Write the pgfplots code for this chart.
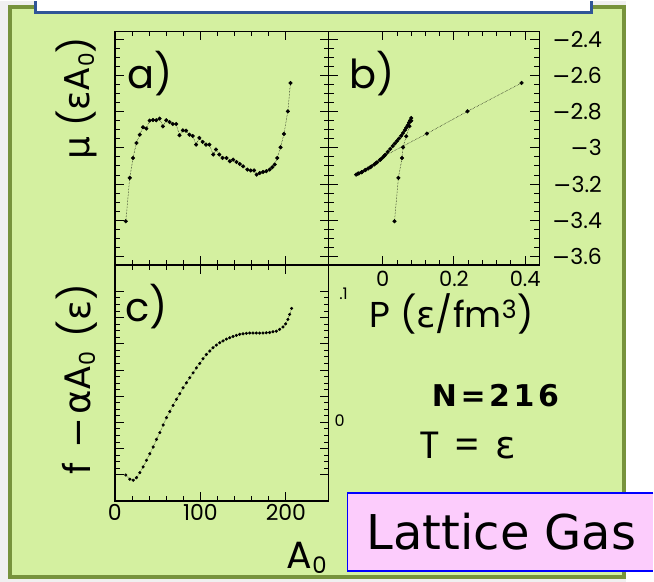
\documentclass[border=0pt]{standalone}
\usepackage{pgfplots}
\pgfplotsset{compat=1.18}
\usepackage{fontspec}
\setmainfont{Poppins}
\newfontfamily\dejavu{DejaVu Sans}
\newfontfamily\dejavubold{DejaVu Sans Bold}[LetterSpace=12]
\definecolor{panelgreen}{RGB}{212,240,160}
\definecolor{panelborder}{RGB}{119,147,60}
\definecolor{boxblue}{RGB}{47,85,151}
\definecolor{pinkbox}{RGB}{252,204,252}
\newcommand{\fs}[1]{\fontsize{#1}{#1}\selectfont}
\newcommand{\sub}[1]{\raisebox{-0.25ex}{\scalebox{0.6}{#1}}}
\pgfplotsset{
  panel/.style={
    scale only axis,
    axis line style={line width=1.6pt},
    every tick/.style={black, line width=0.9pt},
    major tick length=9pt,
    minor tick length=5pt,
    tick align=inside,
    xtick pos=both, ytick pos=both,
    clip=false,
  },
  dat/.style={black, densely dotted, line width=0.5pt, mark=*, mark options={solid, fill=black}, mark size=1.8pt},
}
\begin{document}
\begin{tikzpicture}
\begin{scope}[x=1pt,y=1pt]
\fill[black!6] (0,0) rectangle (654,581);
\fill[white] (627,0) rectangle (654,581);
\filldraw[fill=panelgreen, draw=panelborder, line width=4pt] (10,5) rectangle (625,575);
\fill[white] (36,570) rectangle (592,581);
\draw[boxblue, line width=3pt] (36,581) -- (36,570) -- (592,570) -- (592,581);
\end{scope}

% panel a
\begin{axis}[panel, at={(115pt,317pt)}, anchor=south west, width=214pt, height=234pt,
  xmin=0, xmax=250, ymin=-3.649, ymax=-2.356,
  xtick={0,100,200}, minor x tick num=4, xticklabels={},
  ytick={-3.6,-3.4,-3.2,-3,-2.8,-2.6,-2.4}, minor y tick num=3, yticklabels={}]
\addplot[dat] coordinates {
(12.8,-3.406) (17.4,-3.166) (21.3,-3.056) (25.2,-2.973) (29.1,-2.927) (32.9,-2.886)
(36.8,-2.893) (40.7,-2.849) (44.6,-2.846) (48.4,-2.847) (52.3,-2.838) (56.2,-2.881)
(60.1,-2.847) (64.0,-2.857) (67.8,-2.868) (71.7,-2.868) (75.6,-2.930) (79.5,-2.903)
(83.3,-2.905) (87.2,-2.927) (91.1,-2.934) (95.0,-2.982) (98.8,-2.945) (102.7,-2.967)
(106.6,-2.982) (110.5,-2.982) (115.1,-3.037) (118.2,-3.009) (122.1,-3.037) (126.0,-3.056)
(130.6,-3.056) (134.5,-3.074) (138.4,-3.065) (142.2,-3.078) (146.1,-3.089) (150.0,-3.102)
(155.0,-3.120) (158.9,-3.125) (162.8,-3.125) (165.9,-3.148) (169.4,-3.139) (173.3,-3.133)
(177.1,-3.129) (181.0,-3.120) (184.1,-3.107) (186.9,-3.092) (189.9,-3.056) (193.8,-2.997)
(197.7,-2.923) (202.3,-2.798) (205.4,-2.641)
};
\end{axis}

% panel b
\begin{axis}[panel, at={(329pt,317pt)}, anchor=south west, width=211pt, height=234pt,
  xmin=-0.152, xmax=0.44, ymin=-3.649, ymax=-2.356,
  xtick={0,0.2,0.4}, minor x tick num=4, xticklabel pos=lower,
  xticklabels={0,0.2,0.4},
  xticklabel style={font=\fs{21}, yshift=-2pt},
  ytick={-3.6,-3.4,-3.2,-3,-2.8,-2.6,-2.4}, minor y tick num=3,
  yticklabel pos=right,
  yticklabels={{\dejavu−}3.6,{\dejavu−}3.4,{\dejavu−}3.2,{\dejavu−}3,{\dejavu−}2.8,{\dejavu−}2.6,{\dejavu−}2.4},
  yticklabel style={font=\fs{22}, anchor=west, text width=62pt, align=right, xshift=-3pt}]
\addplot[dat] coordinates {
(0.033,-3.406) (0.044,-3.166) (0.054,-3.056) (0.057,-2.997) (0.066,-2.936) (0.075,-2.880)
(0.080,-2.850)
(0.080,-2.835) (0.077,-2.848) (0.074,-2.860) (0.070,-2.875) (0.066,-2.889) (0.062,-2.902)
(0.057,-2.918) (0.052,-2.933) (0.046,-2.948) (0.040,-2.962) (0.034,-2.976) (0.028,-2.990)
(0.021,-3.006) (0.014,-3.022) (0.007,-3.038) (0.000,-3.053) (-0.008,-3.067) (-0.016,-3.080)
(-0.024,-3.092) (-0.032,-3.103) (-0.041,-3.114) (-0.050,-3.124) (-0.058,-3.133) (-0.067,-3.141)
(-0.075,-3.148)
(-0.070,-3.143) (-0.060,-3.135) (-0.048,-3.122) (-0.035,-3.107) (-0.020,-3.086) (-0.006,-3.064)
(0.004,-3.045) (0.124,-2.921) (0.238,-2.798) (0.390,-2.641)
};
\end{axis}

% panel c
\begin{axis}[panel, at={(115pt,81pt)}, anchor=south west, width=214pt, height=236pt,
  xmin=0, xmax=250, ymin=0, ymax=9,
  xtick={0,100,200}, minor x tick num=4, xticklabel pos=lower,
  xticklabels={0,100,200}, xticklabel style={font=\fs{22}},
  ytick={1,2,3,4,5,6,7,8}, minor y tick num=3, yticklabels={}]
\addplot[dat, mark size=1.3pt] coordinates {
(12.8,0.99) (17.5,0.83) (21.4,0.79) (25.3,0.89) (29.2,1.08) (33.1,1.30) (37.0,1.55)
(40.9,1.80) (44.8,2.06) (48.7,2.35) (52.6,2.61) (56.5,2.90) (60.4,3.18) (64.2,3.41)
(68.1,3.65) (72.0,3.88) (75.9,4.09) (79.8,4.32) (83.7,4.51) (87.6,4.70) (91.5,4.89)
(95.4,5.08) (99.3,5.25) (103.1,5.43) (107.0,5.59) (111.0,5.72) (114.8,5.85) (118.7,5.95)
(122.6,6.04) (126.5,6.11) (130.4,6.18) (134.3,6.23) (138.2,6.28) (142.1,6.32) (146.0,6.36)
(149.9,6.38) (153.8,6.40) (157.7,6.41) (161.5,6.41) (165.4,6.41) (169.3,6.41) (173.2,6.41)
(177.1,6.42) (181.0,6.43) (184.9,6.46) (188.8,6.48) (192.7,6.55) (196.6,6.64) (199.7,6.76)
(202.4,6.93) (204.4,7.12) (206.7,7.35)
};
\end{axis}

\begin{scope}[x=1pt,y=1pt]
\node at (150,509) {\fs{40}a)};
\node at (372,509) {\fs{40}b)};
\node at (147,276) {\fs{40}c)};
\node[rotate=90] at (77,484) {\fs{36}{\dejavu μ}\hspace{10pt}({\dejavu ε}A\sub{0})};
\node[rotate=90] at (77,203) {\fs{37}f\hspace{14pt}{\dejavu −}\hspace{3pt}{\dejavu α}A\sub{0}\hspace{14pt}({\dejavu ε})};
\node at (452,268) {\fs{36}P\hspace{10pt}({\dejavu ε}/fm\textsuperscript{3})};
\node at (344,288) {\fs{16}.1};
\node at (340,161) {\fs{16}0};
\node at (307,24) {\fs{38}A\sub{0}};
\node at (496,186) {\fs{30}\dejavubold N=216};
\node at (468,136) {\fs{38}T\hspace{14pt}=\hspace{14pt}{\dejavu ε}};
\fill[pinkbox] (348,89) rectangle (654,11);
\draw[blue, line width=1.5pt] (654,89) -- (348,89) -- (348,11) -- (654,11);
\node at (502,50) {\fs{48}\dejavu Lattice Gas};
\end{scope}
\end{tikzpicture}
\end{document}
